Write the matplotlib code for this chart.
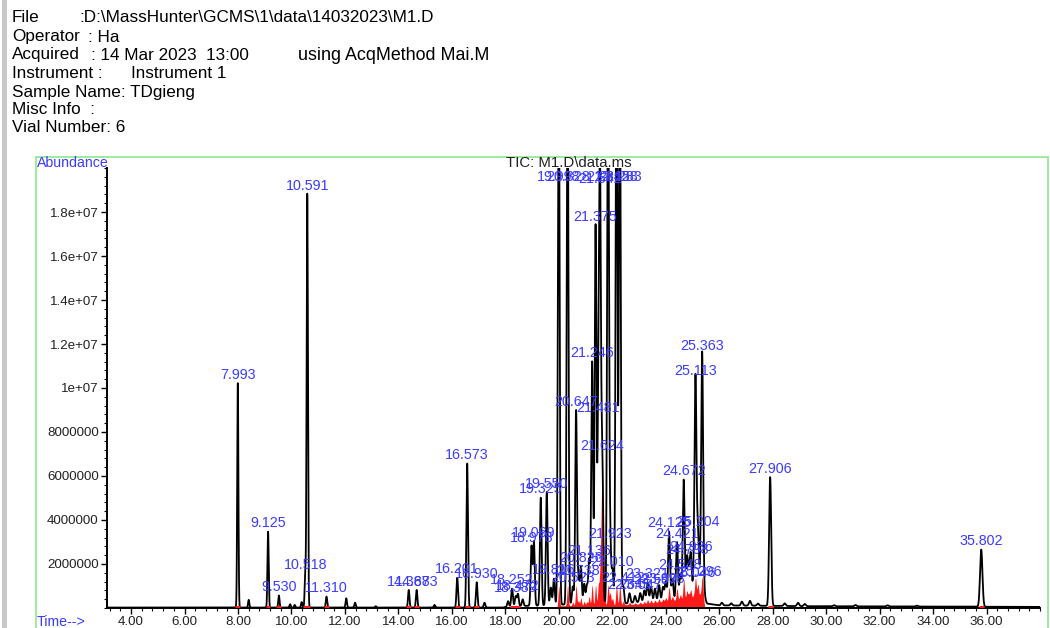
import numpy as np
import matplotlib
matplotlib.use("Agg")
import matplotlib.pyplot as plt
from matplotlib.patches import Rectangle
from matplotlib.ticker import FixedLocator, FixedFormatter, MultipleLocator

plt.rcParams['font.family'] = ['Liberation Sans', 'DejaVu Sans']

# ---------------- data ----------------
peak_rt = [7.993, 8.40, 9.125, 9.530, 9.95, 10.12, 10.38, 10.518, 10.591, 11.310,
           12.05, 12.38, 13.15, 14.387, 14.683, 15.35, 16.201, 16.573, 16.930, 17.22,
           18.10, 18.252, 18.389, 18.472, 18.65, 18.978, 19.069, 19.325, 19.550, 19.70,
           19.816, 19.998, 20.328, 20.523, 20.647, 20.738, 20.826, 20.95, 21.05, 21.136,
           21.246, 21.375, 21.481, 21.542, 21.624, 21.842, 21.923, 22.010, 22.158, 22.283,
           22.412, 22.645, 22.85, 23.047, 23.20, 23.321, 23.45, 23.597, 23.75, 23.898,
           24.00, 24.125, 24.25, 24.421, 24.548, 24.672, 24.793, 24.866, 24.936, 25.046,
           25.113, 25.204, 25.296, 25.363, 25.45,
           26.10, 26.45, 26.85, 27.15, 27.45, 27.906, 28.45, 28.95, 29.20, 30.30,
           31.10, 32.30, 33.40, 35.802]
peak_h = [10.2e6, 0.35e6, 3.45e6, 0.55e6, 0.15e6, 0.12e6, 0.25e6, 1.55e6, 18.8e6, 0.50e6,
          0.42e6, 0.22e6, 0.06e6, 0.80e6, 0.80e6, 0.12e6, 1.35e6, 6.55e6, 1.15e6, 0.22e6,
          0.25e6, 0.80e6, 0.45e6, 0.55e6, 0.30e6, 2.70e6, 2.90e6, 4.90e6, 5.15e6, 0.80e6,
          1.20e6, 26e6, 26e6, 0.80e6, 8.80e6, 1.10e6, 1.70e6, 0.90e6, 0.80e6, 2.00e6,
          11.0e6, 17.2e6, 8.50e6, 18.9e6, 6.80e6, 26e6, 2.80e6, 1.50e6, 26e6, 26e6,
          0.80e6, 0.45e6, 0.30e6, 0.40e6, 0.50e6, 0.85e6, 0.65e6, 0.55e6, 0.70e6, 0.60e6,
          0.85e6, 3.10e6, 0.95e6, 2.60e6, 1.15e6, 5.40e6, 1.80e6, 1.00e6, 1.90e6, 0.70e6,
          9.90e6, 3.00e6, 0.70e6, 11.0e6, 0.20e6,
          0.12e6, 0.10e6, 0.18e6, 0.22e6, 0.10e6, 5.85e6, 0.12e6, 0.15e6, 0.10e6, 0.05e6,
          0.06e6, 0.05e6, 0.04e6, 2.60e6]
peak_label = ["7.993", "", "9.125", "9.530", "", "", "", "10.518", "10.591", "11.310",
              "", "", "", "14.387", "14.683", "", "16.201", "16.573", "16.930", "",
              "", "18.252", "18.389", "18.472", "", "18.978", "19.069", "19.325", "19.550", "",
              "19.816", "19.998", "20.328", "20.523", "20.647", "20.738", "20.826", "", "", "21.136",
              "21.246", "21.375", "21.481", "21.542", "21.624", "21.842", "21.923", "22.010", "22.158", "22.283",
              "22.412", "22.645", "", "23.047", "", "23.321", "", "23.597", "", "23.898",
              "", "24.125", "", "24.421", "24.548", "24.672", "24.793", "", "24.936", "25.046",
              "25.113", "25.204", "25.296", "25.363", "",
              "", "", "", "", "", "27.906", "", "", "", "",
              "", "", "", "35.802"]

base_rt = [3.1, 17.9, 18.2, 19.5, 21.0, 22.5, 23.2, 24.5, 25.35, 25.55, 26.0, 29.5, 38.0]
base_lv = [0.02e6, 0.02e6, 0.08e6, 0.12e6, 0.20e6, 0.20e6, 0.30e6, 0.40e6, 0.55e6, 0.20e6,
           0.12e6, 0.08e6, 0.05e6]

y_ticks = [2e6, 4e6, 6e6, 8e6, 10e6, 12e6, 14e6, 16e6, 18e6]
y_ticklabels = ["2000000", "4000000", "6000000", "8000000", "1e+07",
                "1.2e+07", "1.4e+07", "1.6e+07", "1.8e+07"]
x_ticks = [4, 6, 8, 10, 12, 14, 16, 18, 20, 22, 24, 26, 28, 30, 32, 34, 36]
x_ticklabels = ["%.2f" % v for v in x_ticks]

header_keys = ["File", "Operator", "Acquired", "Instrument :", "Sample Name: TDgieng",
               "Misc Info  :", "Vial Number: 6"]
header_vals = [":D:\\MassHunter\\GCMS\\1\\data\\14032023\\M1.D", ": Ha",
               ": 14 Mar 2023  13:00", "Instrument 1", "", "", ""]

# ---------------- build the trace ----------------
XMIN, XMAX, YMAX = 3.1, 38.0, 2.0e7
x = np.linspace(XMIN, XMAX, 40000)
rt = np.array(peak_rt)
h = np.array(peak_h)
sig = 0.022 + 0.0008 * np.clip(rt - 8, 0, None)
base = np.interp(x, base_rt, base_lv)
sig_trace = base.copy()
red_trace = np.zeros_like(x)
for r, hh, s in zip(rt, h, sig):
    g = np.exp(-0.5 * ((x - r) / s) ** 2)
    sig_trace += hh * g
    if 19.9 <= r <= 25.45:
        if abs(r - 21.624) < 1e-6:
            red_trace += 6.1e6 * np.exp(-0.5 * ((x - r) / (1.3 * s)) ** 2)
        else:
            red_trace += min(0.2 * hh, 0.9e6) * np.exp(-0.5 * ((x - r) / (0.8 * s)) ** 2)
red_base = np.interp(x, [19.9, 20.0, 22.5, 23.3, 25.4, 25.46], [0, 0.1e6, 0.15e6, 0.2e6, 0.5e6, 0])
red_trace = np.minimum(red_trace + red_base, sig_trace)
in_red = (x > 19.9) & (x < 25.46)

W, H = 1050, 628
fig = plt.figure(figsize=(W / 100, H / 100), dpi=100)

# left gray edge
fig.patches.append(Rectangle((2 / W, 0), 5 / W, 1, transform=fig.transFigure,
                             facecolor="#c8c8c8", edgecolor="none"))
# green frame
fig.patches.append(Rectangle((36 / W, -0.01), (1048 - 36) / W, (628 - 157) / H + 0.01,
                             transform=fig.transFigure, fill=False,
                             edgecolor="#8ee88e", linewidth=1.2))

# header
HFS = 12.3
ys = [18, 37, 55, 73, 92, 110, 128]
for k, yy in zip(header_keys, ys):
    fig.text(12 / W, 1 - yy / H, k, fontsize=HFS, va="center", ha="left", color="black")
tx = {0: 79, 1: 88, 2: 91, 3: 131}
for i, v in enumerate(header_vals):
    if v:
        fig.text(tx[i] / W, 1 - ys[i] / H, v, fontsize=HFS, va="center", ha="left", color="black")
fig.text(298 / W, 1 - 55 / H, "using AcqMethod Mai.M", fontsize=HFS + 0.6, va="center", ha="left")

ax = fig.add_axes([107 / W, 1 - 608 / H, (1040 - 107) / W, 440 / H])
ax.set_xlim(XMIN, XMAX)
ax.set_ylim(0, YMAX)
ax.fill_between(x, 0, red_trace, where=in_red, color="#ff1a1a", linewidth=0, zorder=2)
ax.plot(x, np.minimum(sig_trace, YMAX * 1.5), color="black", linewidth=1.3, zorder=3,
        solid_joinstyle="round")

# red baseline marks under isolated peaks
for r, lab in zip(rt, peak_label):
    if lab and not (18.9 < r < 25.5):
        ax.plot([r - 0.09, r + 0.09], [0.04e6, 0.04e6], color="#ff1a1a", lw=2.2, zorder=4,
                solid_capstyle="butt")

# peak labels
blue = "#3b3bff"
LFS = 10.3
for r, hh, lab in zip(rt, h, peak_label):
    if not lab:
        continue
    top = hh + float(np.interp(r, base_rt, base_lv))
    yl = min(top, 1.92e7)
    ax.annotate(lab, xy=(r, yl), xytext=(0, 1.0), textcoords="offset points",
                ha="center", va="bottom", fontsize=LFS, color=blue, zorder=5,
                annotation_clip=False)

for s in ["top", "right"]:
    ax.spines[s].set_visible(False)
ax.spines["left"].set_linewidth(1.4)
ax.spines["bottom"].set_linewidth(1.4)
ax.yaxis.set_major_locator(FixedLocator(y_ticks))
ax.yaxis.set_major_formatter(FixedFormatter(y_ticklabels))
ax.yaxis.set_minor_locator(MultipleLocator(0.4e6))
ax.xaxis.set_major_locator(FixedLocator(x_ticks))
ax.xaxis.set_major_formatter(FixedFormatter(x_ticklabels))
ax.xaxis.set_minor_locator(MultipleLocator(0.4))
ax.tick_params(axis="both", which="major", length=4, width=1, labelsize=9.6,
               labelcolor="#222222", pad=2)
ax.tick_params(axis="both", which="minor", length=2.5, width=0.8)
ax.patch.set_alpha(0)

fig.text(37 / W, 1 - 163 / H, "Abundance", fontsize=10.2, color=blue, va="center", ha="left")
fig.text(37 / W, 1 - 622 / H, "Time-->", fontsize=10.2, color=blue, va="center", ha="left")
fig.text(569 / W, 1 - 163 / H, "TIC: M1.D\\data.ms", fontsize=10.8, color="#222222",
         va="center", ha="center")

fig.savefig("out.png", dpi=100)
